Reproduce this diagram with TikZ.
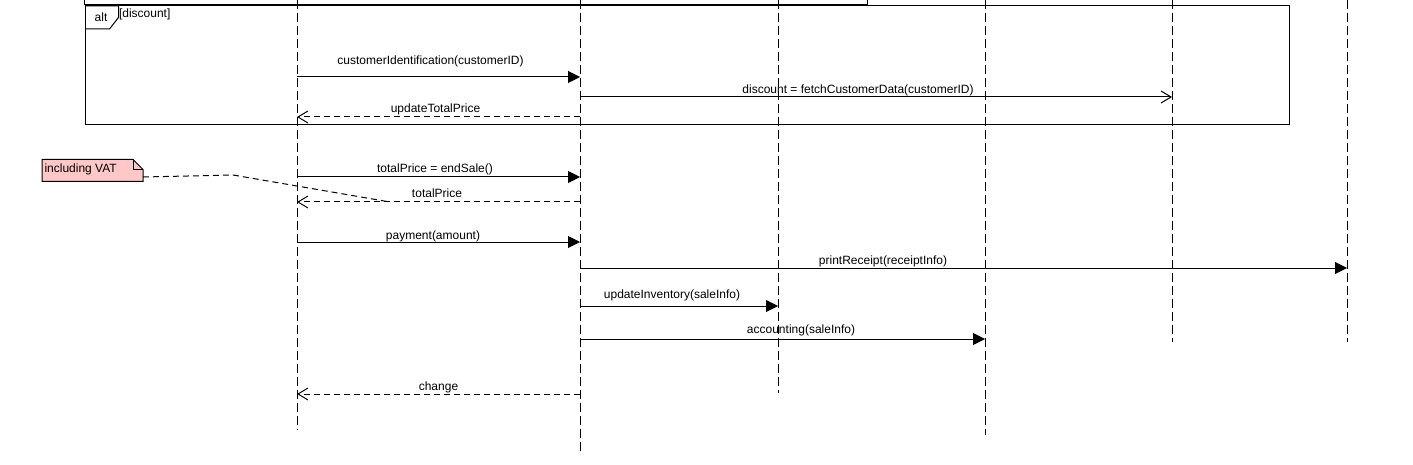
\documentclass[tikz,border=0pt]{standalone}
\usepackage{fontspec}
\setmainfont{Liberation Sans}
\usetikzlibrary{arrows.meta}
\definecolor{notepink}{RGB}{255,200,200}
\begin{document}
\begin{tikzpicture}[x=1pt,y=-1pt,line width=1pt,
    every node/.style={font=\fontsize{12}{14}\selectfont,inner sep=0pt},
    msg/.style={anchor=base},
    lifeline/.style={dash pattern=on 9pt off 4pt},
    call/.style={-{Triangle[length=12pt,width=12pt]}},
    send/.style={-{Straight Barb[length=10pt,width=12pt]}},
    answer/.style={send,dash pattern=on 6pt off 4pt},
    notelink/.style={dash pattern=on 6pt off 4pt}]
  \useasboundingbox (0,0) rectangle (1413,465);
  \foreach \n/\x/\y in {a/297/430,b/580/452,c/778/393,d/985/435,e/1172/342,f/1347/342}
    \draw[lifeline] (\x,0) coordinate (\n) -- (\x,\y) coordinate (\n-end);
  \draw (84,0) -- (84,4.5) -- (867,4.5) -- (867,0);
  \draw (85.5,6) rectangle (1289.5,125);
  \draw (85.5,6) -- (118.5,6) -- (118.5,17.5) -- (109.5,29) -- (85.5,29);
  \node[msg] (alt) at (101,21.5) {alt};
  \node[msg,anchor=base west] (guard) at (118.5,18) {[discount]};
  \draw[fill=notepink] (42,159.5) -- (133,159.5) -- (143,169.5) -- (143,181.5)
    -- (42,181.5) -- cycle;
  \draw (133,159.5) -- (133,169.5) -- (143,169.5);
  \node[msg,anchor=base west] (vat) at (44,173) {including VAT};
  \path
    (a |- 0,77) coordinate (ci1) (b |- 0,77) coordinate (ci2)
    (b |- 0,97) coordinate (fc1) (e |- 0,97) coordinate (fc2)
    (b |- 0,117) coordinate (up1) (a |- 0,117) coordinate (up2)
    (a |- 0,177) coordinate (es1) (b |- 0,177) coordinate (es2)
    (b |- 0,202) coordinate (tp1) (a |- 0,202) coordinate (tp2)
    (a |- 0,242) coordinate (pa1) (b |- 0,242) coordinate (pa2)
    (b |- 0,268) coordinate (pr1) (f |- 0,268) coordinate (pr2)
    (b |- 0,306) coordinate (ui1) (c |- 0,306) coordinate (ui2)
    (b |- 0,339) coordinate (ac1) (d |- 0,339) coordinate (ac2)
    (b |- 0,394) coordinate (ch1) (a |- 0,394) coordinate (ch2)
    (143,177) coordinate (vat1) (233,175) coordinate (vat2) (390,202) coordinate (vat3);
  \begin{scope}
    \draw[call] (ci1) -- (ci2);
    \draw[send] (fc1) -- (fc2);
    \draw[answer] (up1) -- (up2);
    \draw[call] (es1) -- (es2);
    \draw[answer] (tp1) -- (tp2);
    \draw[call] (pa1) -- (pa2);
    \draw[call] (pr1) -- (pr2);
    \draw[call] (ui1) -- (ui2);
    \draw[call] (ac1) -- (ac2);
    \draw[answer] (ch1) -- (ch2);
    \draw[notelink] (vat1) -- (vat2) -- (vat3);
  \end{scope}
  \node[msg] (ciL) at (430.5,65) {customerIdentification(customerID)};
  \node[msg] (fcL) at (858,94) {discount = fetchCustomerData(customerID)};
  \node[msg] (upL) at (435.5,113) {updateTotalPrice};
  \node[msg] (esL) at (435,173) {totalPrice = endSale()};
  \node[msg] (tpL) at (437,198) {totalPrice};
  \node[msg] (paL) at (433,239) {payment(amount)};
  \node[msg] (prL) at (883,264) {printReceipt(receiptInfo)};
  \node[msg] (uiL) at (672,298.5) {updateInventory(saleInfo)};
  \node[msg] (acL) at (801,333) {accounting(saleInfo)};
  \node[msg] (chL) at (438.5,390) {change};
\end{tikzpicture}
\end{document}
